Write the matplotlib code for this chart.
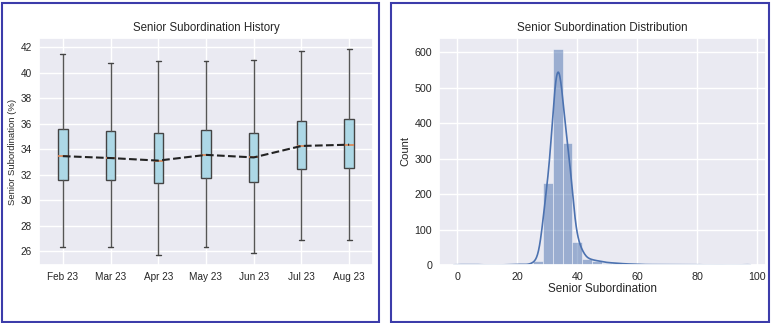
import math
import numpy as np
import matplotlib
matplotlib.use("Agg")
import matplotlib.pyplot as plt
import seaborn as sns
from matplotlib.patches import Rectangle

sns.set_theme(style="darkgrid")
plt.rcParams['font.family'] = ['Liberation Sans', 'DejaVu Sans']

# box plot stats per month (whisker low, q1, median, q3, whisker high)
months = ['Feb 23', 'Mar 23', 'Apr 23', 'May 23', 'Jun 23', 'Jul 23', 'Aug 23']
whis_lo = [26.35, 26.3, 25.65, 26.3, 25.85, 26.85, 26.85]
q1 = [31.6, 31.55, 31.35, 31.75, 31.45, 32.45, 32.55]
medians = [33.45, 33.3, 33.1, 33.55, 33.35, 34.25, 34.35]
q3 = [35.6, 35.4, 35.25, 35.5, 35.3, 36.2, 36.35]
whis_hi = [41.45, 40.8, 40.95, 40.95, 41.0, 41.7, 41.85]

# histogram of senior subordination (30 bins)
bin_lo = -1.2
bin_hi = 97.8
counts = [1, 1, 1, 0, 0, 1, 2, 1, 12, 230,
          608, 344, 64, 18, 12, 7, 5, 3, 2, 1,
          1, 1, 1, 1, 1, 0, 1, 0, 0, 1]

fig = plt.figure(figsize=(7.71, 3.23), dpi=100)
fig.patch.set_facecolor('white')

# panel borders
border = '#3c3caa'
fig.add_artist(Rectangle((1.5 / 771, 1.5 / 323), 377 / 771, 319 / 323, transform=fig.transFigure,
                         fill=False, edgecolor=border, lw=1.5))
fig.add_artist(Rectangle((391 / 771, 1.5 / 323), 378 / 771, 319 / 323, transform=fig.transFigure,
                         fill=False, edgecolor=border, lw=1.5))

# ---- left: box plot history
ax1 = fig.add_axes([39 / 771, 1 - 265 / 323, 334 / 771, 227 / 323])
stats = []
for i in range(len(months)):
    stats.append(dict(whislo=whis_lo[i], q1=q1[i], med=medians[i], q3=q3[i],
                      whishi=whis_hi[i], fliers=[], label=months[i]))
pos = np.arange(1, len(months) + 1)
ax1.bxp(stats, positions=pos, widths=0.2, patch_artist=True, showfliers=False,
        boxprops=dict(facecolor='#add8e6', edgecolor='#444444', lw=1),
        whiskerprops=dict(color='#555555', lw=1),
        capprops=dict(color='#444444', lw=1),
        medianprops=dict(color='#dd8452', lw=1.2))
ax1.plot(pos, medians, '--', color='#222222', lw=1.5, zorder=5)
ax1.set_xlim(0.5, 7.5)
ax1.set_ylim(24.9, 42.73)
ax1.set_yticks(range(26, 43, 2))
ax1.tick_params(labelsize=7.2, length=0, pad=5)
ax1.set_ylabel('Senior Subordination (%)', fontsize=6.8, labelpad=3)
ax1.set_title('Senior Subordination History', fontsize=8.3, pad=5)

# ---- right: histogram with kde
ax2 = fig.add_axes([439 / 771, 1 - 265 / 323, 327 / 771, 227 / 323])
edges = np.linspace(bin_lo, bin_hi, len(counts) + 1)
binw = edges[1] - edges[0]
ax2.bar(edges[:-1], counts, width=binw, align='edge', color='#4c72b0', alpha=0.5,
        edgecolor='white', lw=0.6)

# kde: smooth the binned counts with a gaussian kernel
h = 1.3
erf = np.vectorize(math.erf)
xs = np.linspace(bin_lo, bin_hi, 600)
dens = np.zeros_like(xs)
for c, a, b in zip(counts, edges[:-1], edges[1:]):
    dens += c * 0.5 * (erf((xs - a) / (h * np.sqrt(2))) - erf((xs - b) / (h * np.sqrt(2))))
ax2.plot(xs, dens, color='#4c72b0', lw=1.2)
ax2.set_xlim(-6.15, 103.0)
ax2.set_ylim(0, 640)
ax2.tick_params(labelsize=7.7, length=0, pad=5)
ax2.set_xlabel('Senior Subordination', fontsize=8.4, labelpad=1)
ax2.set_ylabel('Count', fontsize=8, labelpad=3)
ax2.set_title('Senior Subordination Distribution', fontsize=8.4, pad=5)

fig.savefig('out.png', dpi=100)
